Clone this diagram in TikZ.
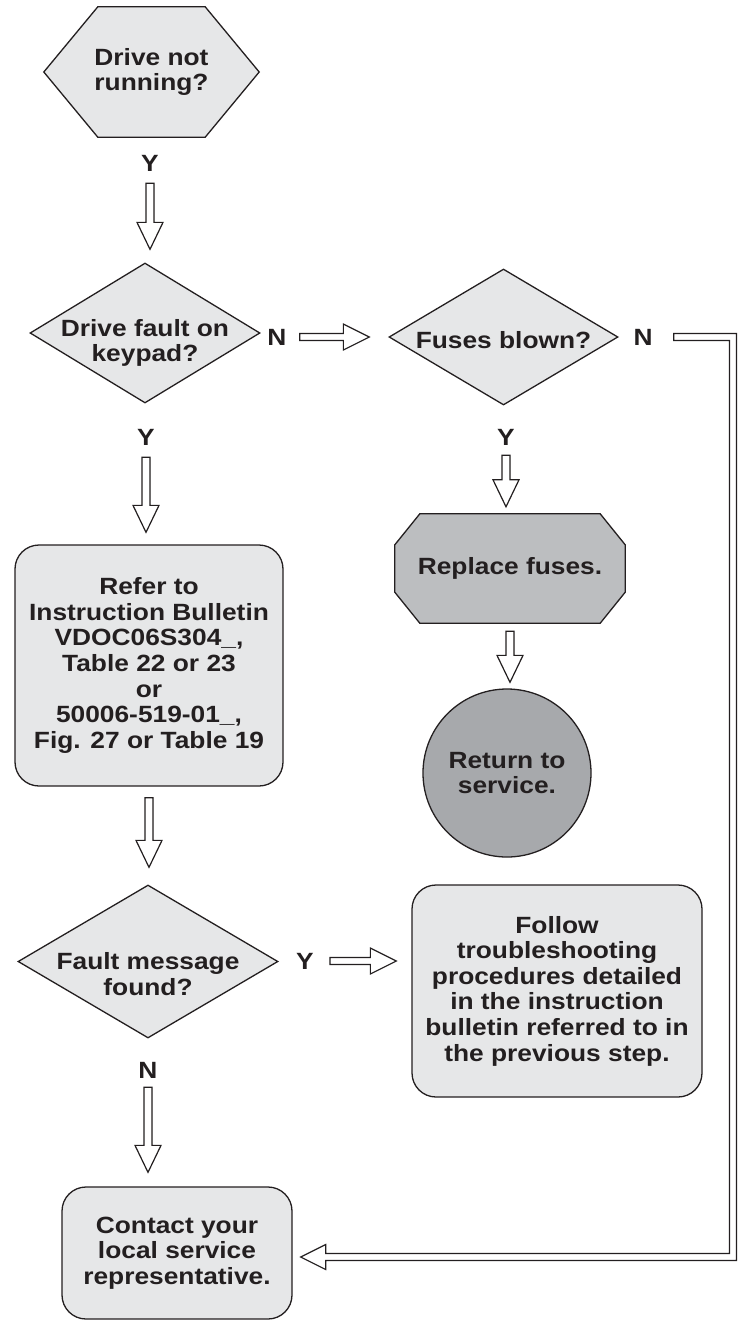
\documentclass[tikz,border=0pt]{standalone}
\usepackage{fontspec}
\newfontfamily\dfont{Liberation Sans}[FakeStretch=1.12]
\usetikzlibrary{calc,shapes.geometric,backgrounds}
\definecolor{inkc}{HTML}{231F20}
\definecolor{fillA}{HTML}{E6E7E8}
\definecolor{fillB}{HTML}{BCBEC0}
\definecolor{fillC}{HTML}{A7A9AC}
\definecolor{shc}{HTML}{939598}
% vertical (downward) hollow block arrow: #1 start node anchor, #2 end node anchor, #3/#4 gaps
\newcommand{\varr}[4]{\foreach \sty in {arrshadow,arrbody}{%
  \path[\sty] let \p1=(#1),\p2=(#2) in
   (\x1-4pt,\y1-#3) -- (\x1-4pt,\y2+#4+27pt) -- (\x1-13pt,\y2+#4+27pt) -- (\x1,\y2+#4)
   -- (\x1+13pt,\y2+#4+27pt) -- (\x1+4pt,\y2+#4+27pt) -- (\x1+4pt,\y1-#3) -- cycle;}}
% horizontal (rightward) hollow block arrow
\newcommand{\harr}[4]{\foreach \sty in {arrshadow,arrbody}{%
  \path[\sty] let \p1=(#1),\p2=(#2) in
   (\x1+#3,\y1+3.5pt) -- (\x2-#4-26pt,\y1+3.5pt) -- (\x2-#4-26pt,\y1+13pt) -- (\x2-#4,\y1)
   -- (\x2-#4-26pt,\y1-13pt) -- (\x2-#4-26pt,\y1-3.5pt) -- (\x1+#3,\y1-3.5pt) -- cycle;}}
\begin{document}
\begin{tikzpicture}[x=1pt,y=-1pt,
  txt/.style={font=\dfont\bfseries\fontsize{23.5}{25.6}\selectfont, text=inkc, align=center, inner sep=0pt},
  lab/.style={font=\dfont\bfseries\fontsize{23.5}{25.6}\selectfont, text=inkc, inner sep=0pt},
  shp/.style={draw=inkc, line width=1.3pt},
  arrshadow/.style={fill=shc, draw=none, shift={(2pt,-2pt)}},
  arrbody/.style={fill=white, draw=inkc, line width=1.2pt, line join=miter},
  rbox/.style={txt, shp, fill=fillA, rounded corners=24pt}]
\useasboundingbox (0,0) rectangle (739,1323);

% ---- shapes and texts ----
\node[txt, minimum width=215, minimum height=130] (start) at (151.5,72) {Drive not\\running?};
\node[diamond, shp, fill=fillA, minimum width=230, minimum height=140, inner sep=0pt] (d1) at (145,333) {};
\node[txt] (d1t) at (145,343) {Drive fault on\\keypad?};
\node[diamond, shp, fill=fillA, minimum width=229, minimum height=136, inner sep=0pt] (d2) at (503.5,337) {};
\node[txt] (d2t) at (503.5,340) {Fuses blown?};
\node[txt, minimum width=230, minimum height=109] (rep) at (510,568.5) {Replace fuses.};
\node[circle, shp, fill=fillC, txt, minimum size=168] (ret) at (507,773) {Return to\\service.};
\node[rbox, minimum width=268, minimum height=241] (ref) at (149,665.5)
  {Refer to\\Instruction Bulletin\\VDOC06S304\_,\\Table 22 or 23\\or\\50006-519-01\_,\\Fig. 27 or Table 19};
\node[diamond, shp, fill=fillA, minimum width=260, minimum height=153, inner sep=0pt] (d3) at (148,961.5) {};
\node[txt] (d3t) at (148,974) {Fault message\\found?};
\node[rbox, minimum width=290, minimum height=212] (fol) at (557,991)
  {Follow\\troubleshooting\\procedures detailed\\in the instruction\\bulletin referred to in\\the previous step.};
\node[rbox, minimum width=230, minimum height=132] (con) at (177,1253)
  {Contact your\\local service\\representative.};

\begin{pgfonlayer}{background}
\draw[shp, fill=fillA] (start.west) -- ([xshift=54pt]start.north west) -- ([xshift=-54pt]start.north east)
  -- (start.east) -- ([xshift=-54pt]start.south east) -- ([xshift=54pt]start.south west) -- cycle;
\draw[shp, fill=fillB] ([yshift=-31pt]rep.north west) -- ([xshift=25pt]rep.north west) -- ([xshift=-25pt]rep.north east)
  -- ([yshift=-31pt]rep.north east) -- ([yshift=31pt]rep.south east) -- ([xshift=-25pt]rep.south east)
  -- ([xshift=25pt]rep.south west) -- ([yshift=31pt]rep.south west) -- cycle;
\end{pgfonlayer}

% ---- labels ----
\node[lab] (y1) at (150,163) {Y};
\node[lab] (n1) at (277,337) {N};
\node[lab] (n2) at (643,337) {N};
\node[lab] (y2) at (146,437) {Y};
\node[lab] (y3) at (506,437) {Y};
\node[lab] (y4) at (305,961) {Y};
\node[lab] (n3) at (148,1070) {N};
\coordinate (bend) at (733,1257);

% ---- connectors ----
\varr{y1.south}{d1.north}{12pt}{13pt}
\varr{y2.south}{ref.north}{12pt}{12pt}
\varr{ref.south}{d3.north}{11pt}{17pt}
\varr{n3.south}{con.north}{9pt}{14pt}
\varr{y3.south}{rep.north}{10pt}{7pt}
\varr{rep.south}{ret.north}{8pt}{6pt}
\harr{n1.east}{d2.west}{13pt}{19pt}
\harr{y4.east}{fol.west}{16pt}{15pt}
\foreach \sty in {arrshadow,arrbody}{%
  \path[\sty] let \p1=(n2.east), \p2=(con.east), \p3=(bend) in
   (\x1+21pt,\y1+3.5pt) -- (\x3+3.5pt,\y1+3.5pt) -- (\x3+3.5pt,\y3-3.5pt) -- (\x2+33pt,\y3-3.5pt)
   -- (\x2+33pt,\y3-12.5pt) -- (\x2+8pt,\y3) -- (\x2+33pt,\y3+12.5pt) -- (\x2+33pt,\y3+3.5pt)
   -- (\x3-3.5pt,\y3+3.5pt) -- (\x3-3.5pt,\y1-3.5pt) -- (\x1+21pt,\y1-3.5pt) -- cycle;}
\end{tikzpicture}
\end{document}
